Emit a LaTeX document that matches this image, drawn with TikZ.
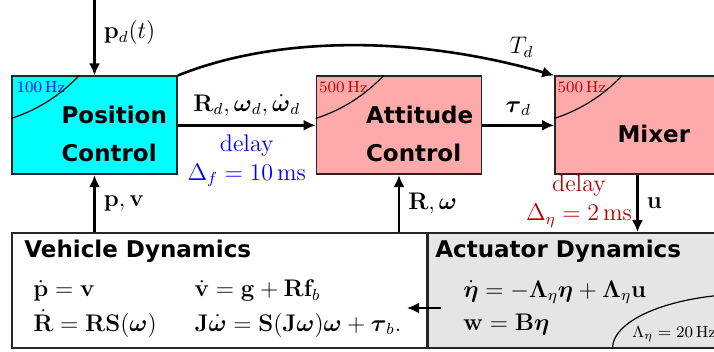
\documentclass[12pt,tikz,border=0pt]{standalone}
\usepackage{amsmath}
\usepackage[no-math]{fontspec}
\usetikzlibrary{positioning,arrows.meta,calc}
\newfontfamily\blockfont{DejaVu Sans}
\definecolor{poscyan}{RGB}{0,255,255}
\definecolor{ctrlpink}{RGB}{255,170,170}
\tikzset{
  >={Latex[length=6pt,width=5.5pt]},
  block/.style={draw=black!85, line width=0.8pt, minimum width=82.5pt, minimum height=49pt, inner sep=0pt},
  blocktext/.style={font=\fontsize{11.5}{19}\selectfont\blockfont\bfseries, inner sep=0pt, align=left},
  title/.style={font=\fontsize{11.5}{14}\selectfont\blockfont\bfseries, inner sep=0pt, anchor=base west},
  rate/.style={font=\fontsize{8}{10}\selectfont, inner sep=0pt, anchor=base west},
  corner/.style={line width=0.6pt},
  sig/.style={->, line width=1.3pt},
}

\begin{document}
\begin{tikzpicture}[x=0.5pt, y=-0.5pt, on grid]
  \clip (0,0) rectangle (714,352);

  % control loop blocks
  \node[block, fill=poscyan] (pos) at (94.5,125.3) {};
  \node[block, fill=ctrlpink, right=152.25pt of pos] (att) {};
  \node[block, fill=ctrlpink, right=119.25pt of att] (mix) {};

  % plant blocks
  \node[block, minimum width=207.5pt, minimum height=57.5pt] (veh) at (219.5,290.5) {};
  \node[block, fill=black!10, minimum width=161.5pt, minimum height=57.5pt, anchor=west] (act) at (veh.east) {};

  % rate corners
  \foreach \b in {pos,att,mix}
    \draw[corner] ($(\b.north west)+(0,43)$) .. controls +(26.6,-8.8) and +(-19.3,20.2) .. ($(\b.north west)+(68,0)$);
  \draw[corner] ($(act.south east)+(-140,0)$) arc[start angle=180, end angle=90, x radius=70pt, y radius=27.5pt];

  \node[rate, text=blue] (pos-hz) at ($(pos.north west)+(5,17)$) {$100\,\mathrm{Hz}$};
  \node[rate, text=red!75!black] (att-hz) at ($(att.north west)+(3,17)$) {$500\,\mathrm{Hz}$};
  \node[rate, text=red!75!black] (mix-hz) at ($(mix.north west)+(3,17)$) {$500\,\mathrm{Hz}$};
  \node[rate] (act-hz) at (632,338) {$\Lambda_\eta = 20\,\mathrm{Hz}$};

  % block names
  \node[blocktext, anchor=west] (pos-txt) at ($(pos.west)+(50,8.7)$) {Position\\Control};
  \node[blocktext, anchor=west] (att-txt) at ($(att.west)+(50,8.7)$) {Attitude\\Control};
  \node[blocktext, anchor=base west] (mix-txt) at ($(mix.west)+(63,17.7)$) {Mixer};
  \node[title] (veh-txt) at (24,258) {Vehicle Dynamics};
  \node[title] (act-txt) at (435,258) {Actuator Dynamics};

  % dynamics
  \node[anchor=west, inner sep=0pt] (veh-eq) at (33,308)
    {$\begin{array}{@{}l@{\hspace{19pt}}l@{}}
      \dot{\mathbf{p}} = \mathbf{v} & \dot{\mathbf{v}} = \mathbf{g} + \mathbf{R}\mathbf{f}_b\\[2pt]
      \dot{\mathbf{R}} = \mathbf{R}\mathbf{S}(\boldsymbol{\omega}) & \mathbf{J}\dot{\boldsymbol{\omega}} = \mathbf{S}(\mathbf{J}\boldsymbol{\omega})\boldsymbol{\omega} + \boldsymbol{\tau}_b.
    \end{array}$};
  \node[anchor=west, inner sep=0pt] (act-eq) at (463,308)
    {$\begin{array}{@{}l@{}}
      \dot{\boldsymbol{\eta}} = -\boldsymbol{\Lambda}_\eta\boldsymbol{\eta} + \boldsymbol{\Lambda}_\eta\mathbf{u}\\[2pt]
      \mathbf{w} = \mathbf{B}\boldsymbol{\eta}
    \end{array}$};

  % signals
  \coordinate (pd) at (94.5,0);
  \coordinate (w-from) at (441,308);
  \coordinate (w-to) at (407,308);

  \draw[sig] (pd) -- (pos.north) node[pos=0.43, right] {$\mathbf{p}_d(t)$};
  \draw[sig] (pos) -- (att)
    node[midway, above] {$\mathbf{R}_d, \boldsymbol{\omega}_d, \dot{\boldsymbol{\omega}}_d$}
    node[midway, below, align=center, text=blue] {delay\\$\Delta_f = 10\,\mathrm{ms}$};
  \draw[sig] (att) -- (mix) node[midway, above] {$\boldsymbol{\tau}_d$};
  \draw[sig] (pos.north east) .. controls +(102,-41) and +(-135,-39) .. (mix.north west)
    node[pos=0.92, above] {$T_d$};
  \draw[sig] (mix.south) -- (mix.south |- act.north) node[midway, right] {$\mathbf{u}$};
  \node[align=center, text=red!70!black] (mix-delay) at (579,201) {delay\\$\Delta_\eta = 2\,\mathrm{ms}$};
  \draw[sig] (pos.south |- veh.north) -- (pos.south) node[midway, right] {$\mathbf{p}, \mathbf{v}$};
  \draw[sig] (att.south |- veh.north) -- (att.south) node[midway, right] {$\mathbf{R}, \boldsymbol{\omega}$};
  \draw[sig] (w-from) -- (w-to);
\end{tikzpicture}
\end{document}
